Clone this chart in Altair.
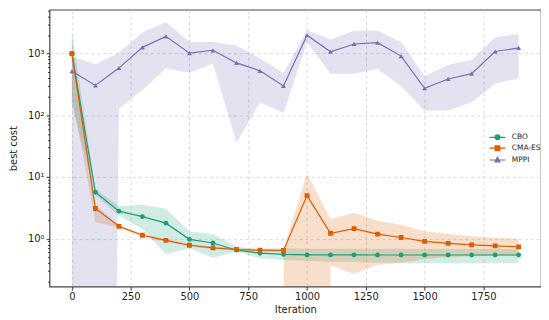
import altair as alt
import pandas as pd

iters = [0, 100, 200, 300, 400, 500, 600, 700, 800, 900,
         1000, 1100, 1200, 1300, 1400, 1500, 1600, 1700, 1800, 1900]

series_names = ["CBO", "CMA-ES", "MPPI"]
series_colors = ["#1b9e77", "#d95f02", "#7570b3"]
series_shapes = ["circle", "square", "triangle-up"]

cbo_mean = [1000, 5.67, 2.8, 2.28, 1.79, 0.98, 0.855, 0.653, 0.586, 0.558,
            0.548, 0.547, 0.547, 0.546, 0.546, 0.546, 0.546, 0.546, 0.546, 0.546]
cbo_lo = [150, 5.1, 2.35, 1.44, 0.56, 0.70, 0.495, 0.62, 0.483, 0.455,
          0.44, 0.42, 0.42, 0.41, 0.41, 0.40, 0.40, 0.40, 0.40, 0.40]
cbo_hi = [2300, 6.4, 3.35, 3.57, 3.05, 1.31, 1.2, 0.74, 0.68, 0.70,
          0.69, 0.69, 0.69, 0.69, 0.69, 0.68, 0.68, 0.68, 0.68, 0.68]

cma_mean = [1000, 3.09, 1.59, 1.14, 0.94, 0.785, 0.713, 0.67, 0.653, 0.646,
            5.0, 1.23, 1.46, 1.19, 1.05, 0.91, 0.84, 0.795, 0.767, 0.74]
cma_lo = [200, 1.87, 1.5, 1.08, 0.89, 0.75, 0.68, 0.64, 0.62, 0.61,
          1e-30, 0.37, 0.27, 0.38, 0.40, 0.47, 0.50, 0.52, 0.53, 0.54]
cma_hi = [1600, 3.5, 1.7, 1.2, 0.99, 0.82, 0.75, 0.70, 0.69, 0.69,
          11.3, 2.07, 2.64, 1.95, 1.68, 1.32, 1.2, 1.1, 1.04, 1.0]

mppi_mean = [515, 305, 582, 1260, 1900, 1015, 1130, 705, 525, 299,
             1980, 1070, 1430, 1500, 910, 274, 388, 473, 1080, 1235]
mppi_lo = [1e-30, 1e-30, 128, 258, 580, 490, 690, 36, 163, 109,
           1540, 473, 473, 570, 299, 120, 120, 163, 325, 400]
mppi_hi = [890, 670, 1030, 2190, 3240, 1540, 1540, 1350, 830, 485,
           2400, 1690, 2340, 2340, 1540, 430, 657, 790, 1830, 2090]

x_ticks = [0, 250, 500, 750, 1000, 1250, 1500, 1750]
y_ticks = [0.2, 0.3, 0.4, 0.5, 0.6, 0.7, 0.8, 0.9,
           1, 2, 3, 4, 5, 6, 7, 8, 9,
           10, 20, 30, 40, 50, 60, 70, 80, 90,
           100, 200, 300, 400, 500, 600, 700, 800, 900,
           1000, 2000, 3000, 4000, 5000]

rows = []
for name, m, lo, hi in [("CBO", cbo_mean, cbo_lo, cbo_hi),
                        ("CMA-ES", cma_mean, cma_lo, cma_hi),
                        ("MPPI", mppi_mean, mppi_lo, mppi_hi)]:
    for i, it in enumerate(iters):
        rows.append({"series": name, "method": name, "it": it,
                     "mean": m[i], "lo": lo[i], "hi": hi[i]})
df = pd.DataFrame(rows)

FONT = "DejaVu Sans"
xs = alt.Scale(domain=[-95, 1995], nice=False, zero=False)
ys = alt.Scale(type="log", domain=[0.168, 5130], nice=False)
cs = alt.Scale(domain=series_names, range=series_colors)

is_major = "abs(log(datum.value)/LN10 - round(log(datum.value)/LN10)) < 0.001"

xaxis = alt.Axis(values=x_ticks, title="Iteration", format="d", grid=True, gridDash=[3, 3],
                 gridColor="#d0d0d0", gridWidth=0.8, domain=False, tickSize=3.5,
                 tickColor="#333", labelFontSize=10, titleFontSize=10,
                 labelFont=FONT, titleFont=FONT, titleFontWeight="normal",
                 labelColor="#222", titleColor="#222", labelPadding=2, titlePadding=3,
                 labelFlush=False)
yaxis = alt.Axis(values=y_ticks, title="best cost",
                 labelExpr="(" + is_major + ") ? '10' + ['⁰','¹','²','³'][round(log(datum.value)/LN10)] : ''",
                 grid=True, gridDash=[3, 3], gridColor="#d0d0d0", gridWidth=0.8,
                 gridOpacity={"condition": {"test": is_major, "value": 1}, "value": 0},
                 tickSize={"condition": {"test": is_major, "value": 3.5}, "value": 2},
                 domain=False, tickColor="#333", labelFontSize=10, titleFontSize=10,
                 labelFont=FONT, titleFont=FONT, titleFontWeight="normal",
                 labelColor="#222", titleColor="#222", labelPadding=2, titlePadding=9,
                 labelFlush=False)

base = alt.Chart(df)
X = alt.X("it:Q", scale=xs, axis=xaxis)

bands = base.mark_area(opacity=0.2, clip=True).encode(
    x=X,
    y=alt.Y("lo:Q", scale=ys, axis=yaxis),
    y2="hi:Q",
    color=alt.Color("series:N", scale=cs, legend=None),
)

lines = base.mark_line(strokeWidth=1.2, clip=True).encode(
    x=X,
    y=alt.Y("mean:Q", scale=ys, axis=yaxis),
    color=alt.Color("series:N", scale=cs, legend=None),
)

point_layers = []
for name, shp in zip(series_names, series_shapes):
    point_layers.append(
        base.mark_point(filled=True, opacity=1, size=24, clip=True, shape=shp).encode(
            x=X,
            y=alt.Y("mean:Q", scale=ys, axis=yaxis),
            color=alt.Color("series:N", scale=cs, legend=None),
        ).transform_filter(alt.datum.series == name)
    )

# line + marker legend glyphs, in the (alphabetical) order of the method names
legend_paths = [
    "M-2,0L2,0M-0.6,0A0.6,0.6,0,1,1,0.6,0A0.6,0.6,0,1,1,-0.6,0Z",
    "M-2,0L2,0M-0.6,-0.6L0.6,-0.6L0.6,0.6L-0.6,0.6Z",
    "M-2,0L2,0M0,-0.7L0.65,0.5L-0.65,0.5Z",
]
legend_color = alt.ExprRef("scale('color', datum.value)")
leg = alt.Legend(title=None, orient="none", legendX=448, legendY=124,
                 labelFontSize=7.5, labelFont=FONT, labelColor="#222",
                 symbolSize=64, symbolStrokeWidth=1.2, labelOffset=9.5,
                 symbolOpacity=1,
                 rowPadding=1, padding=0)

# invisible marks (placed outside the clipped plot area) that only drive the legend
legend_layer = base.mark_point(opacity=1, strokeWidth=1.2, clip=True,
                               fill=legend_color, stroke=legend_color).encode(
    x=alt.value(-500),
    y=alt.value(-500),
    shape=alt.Shape("method:N", scale=alt.Scale(range=legend_paths), legend=leg),
)

chart = alt.layer(bands, lines, *point_layers, legend_layer).properties(
    width=497, height=280,
    padding={"left": 0, "top": 0, "right": 0, "bottom": 0},
).configure_view(
    stroke="#444", strokeWidth=1.2
)

chart.save("out.html", embed_options={"renderer": "svg", "actions": False})
